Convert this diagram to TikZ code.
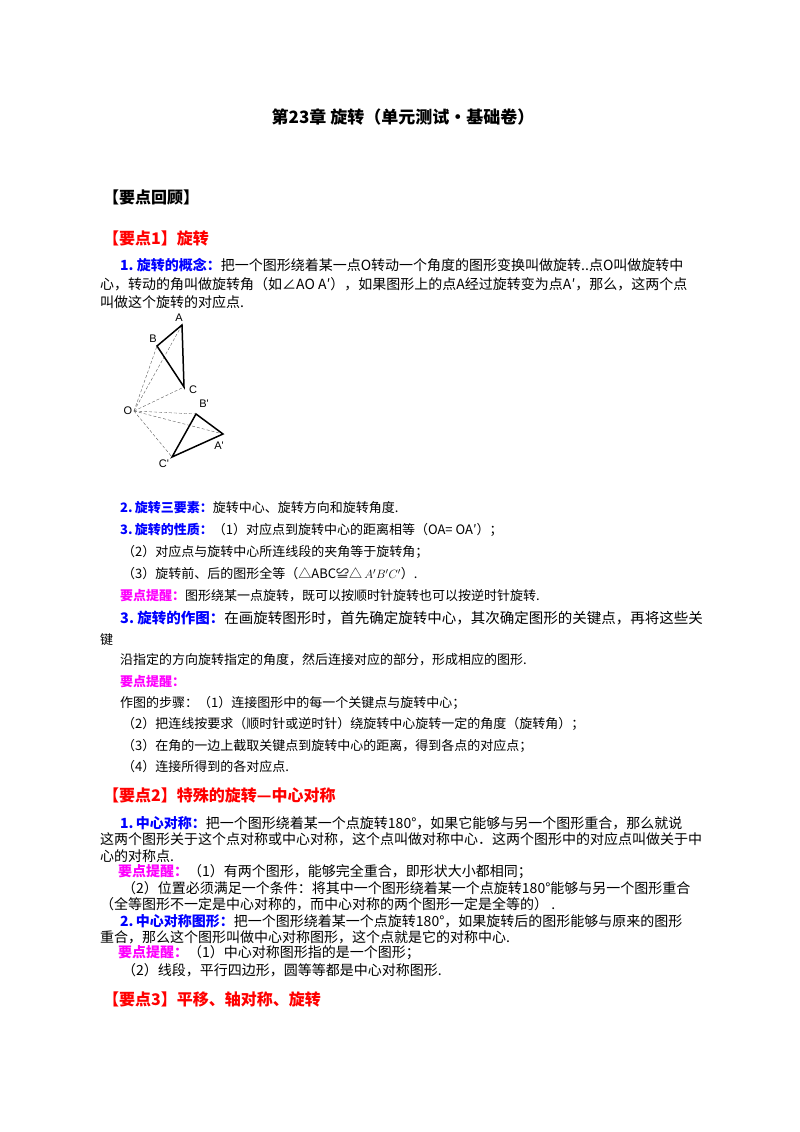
\documentclass[tikz,border=0pt]{standalone}
\usepackage{fontspec}
\setmainfont{Noto Sans CJK SC}
\newfontfamily\labfont{Liberation Sans}
\definecolor{kblue}{RGB}{0,0,255}
\definecolor{kmag}{RGB}{255,0,255}
\definecolor{kred}{RGB}{255,0,0}
\begin{document}
\begin{tikzpicture}[x=1pt,y=-1pt,
  t/.style={anchor=west,inner sep=0pt,font=\fontsize{13}{13}\selectfont},
  tw/.style={anchor=west,inner sep=0pt,font=\fontsize{14}{14}\selectfont},
  h/.style={anchor=west,inner sep=0pt,font=\fontsize{16}{16}\selectfont\bfseries,text=kred},
  lab/.style={inner sep=0pt,font=\labfont\fontsize{11}{11}\selectfont},
  dl/.style={densely dashed,line width=0.4pt,gray!70!black},
  tri/.style={line width=1.5pt,line join=miter}]
\useasboundingbox (0,0) rectangle (800,1132);
\node[anchor=center,inner sep=0pt,font=\fontsize{17}{17}\selectfont\bfseries] (title) at (403,117) {第23章\ 旋转（单元测试·基础卷）};
\node[anchor=west,inner sep=0pt,font=\fontsize{16}{16}\selectfont\bfseries] (rev) at (103,198) {【要点回顾】};
\node[h] (k1) at (103,238) {【要点1】旋转};
\node[tw] (l1) at (120,265) {\textcolor{kblue}{\bfseries 1.\ 旋转的概念：}把一个图形绕着某一点O转动一个角度的图形变换叫做旋转..点O叫做旋转中};
\node[tw] (l2) at (100,284) {心，转动的角叫做旋转角（如∠AO A′），如果图形上的点A经过旋转变为点A′，那么，这两个点};
\node[tw] (l3) at (100,302) {叫做这个旋转的对应点.};
% figure
\coordinate (O) at (134,411);
\coordinate (A) at (182,325);
\coordinate (B) at (157,346);
\coordinate (C) at (184,387);
\coordinate (Bp) at (196,414);
\coordinate (Ap) at (223,434);
\coordinate (Cp) at (172,457);
\foreach \p in {A,B,C,Ap,Bp,Cp} \draw[dl] (O) -- (\p);
\draw[tri] (A) -- (B) -- (C) -- cycle;
\draw[tri] (Ap) -- (Bp) -- (Cp) -- cycle;
\node[lab] (lA) at (179,318) {A};
\node[lab] (lB) at (153,339) {B};
\node[lab] (lC) at (193,390) {C};
\node[lab] (lO) at (128,411) {O};
\node[lab] (lBp) at (204,404) {B'};
\node[lab] (lAp) at (219,446) {A'};
\node[lab] (lCp) at (164,464) {C'};
%
\node[t] (m1) at (120,508) {\textcolor{kblue}{\bfseries 2.\,旋转三要素：}旋转中心、旋转方向和旋转角度.};
\node[t] (m2) at (120,530) {\textcolor{kblue}{\bfseries 3.\,旋转的性质：}（1）对应点到旋转中心的距离相等（OA= OA′）；};
\node[t] (m3) at (122,552) {（2）对应点与旋转中心所连线段的夹角等于旋转角；};
\node[t] (m4) at (122,574) {（3）旋转前、后的图形全等（△ABC≌△\,$A'B'C'$）.};
\node[t] (m5) at (120,596) {\textcolor{kmag}{\bfseries 要点提醒：}图形绕某一点旋转，既可以按顺时针旋转也可以按逆时针旋转.};
\node[anchor=west,inner sep=0pt,font=\fontsize{14.5}{14.5}\selectfont] (m6) at (120,618) {\textcolor{kblue}{\bfseries 3.\ 旋转的作图：}在画旋转图形时，首先确定旋转中心，其次确定图形的关键点，再将这些关};
\node[t] (m7) at (100,640) {键};
\node[t] (m8) at (120,660) {沿指定的方向旋转指定的角度，然后连接对应的部分，形成相应的图形.};
\node[t] (m9) at (120,682) {\textcolor{kmag}{\bfseries 要点提醒：}};
\node[t] (m10) at (120,703) {作图的步骤：（1）连接图形中的每一个关键点与旋转中心；};
\node[t] (m11) at (122,724) {（2）把连线按要求（顺时针或逆时针）绕旋转中心旋转一定的角度（旋转角）；};
\node[t] (m12) at (122,746) {（3）在角的一边上截取关键点到旋转中心的距离，得到各点的对应点；};
\node[t] (m13) at (122,767) {（4）连接所得到的各对应点.};
%
\node[h] (k2) at (103,795) {【要点2】特殊的旋转—中心对称};
\node[tw] (n1) at (120,823) {\textcolor{kblue}{\bfseries 1.\,中心对称：}把一个图形绕着某一个点旋转180°，如果它能够与另一个图形重合，那么就说};
\node[tw] (n2) at (100,839.5) {这两个图形关于这个点对称或中心对称，这个点叫做对称中心．这两个图形中的对应点叫做关于中};
\node[tw] (n3) at (100,856) {心的对称点.};
\node[tw] (n4) at (118,872) {\textcolor{kmag}{\bfseries 要点提醒：}（1）有两个图形，能够完全重合，即形状大小都相同；};
\node[tw] (n5) at (122,888) {（2）位置必须满足一个条件：将其中一个图形绕着某一个点旋转180°能够与另一个图形重合};
\node[tw] (n6) at (100,904) {（全等图形不一定是中心对称的，而中心对称的两个图形一定是全等的）\ .};
\node[tw] (n7) at (120,921) {\textcolor{kblue}{\bfseries 2.\,中心对称图形：}把一个图形绕着某一个点旋转180°，如果旋转后的图形能够与原来的图形};
\node[tw] (n8) at (100,937) {重合，那么这个图形叫做中心对称图形，这个点就是它的对称中心.};
\node[tw] (n9) at (118,953) {\textcolor{kmag}{\bfseries 要点提醒：}（1）中心对称图形指的是一个图形；};
\node[tw] (n10) at (122,970) {（2）线段，平行四边形，圆等等都是中心对称图形.};
\node[h] (k3) at (103,999) {【要点3】平移、轴对称、旋转};
\end{tikzpicture}
\end{document}
